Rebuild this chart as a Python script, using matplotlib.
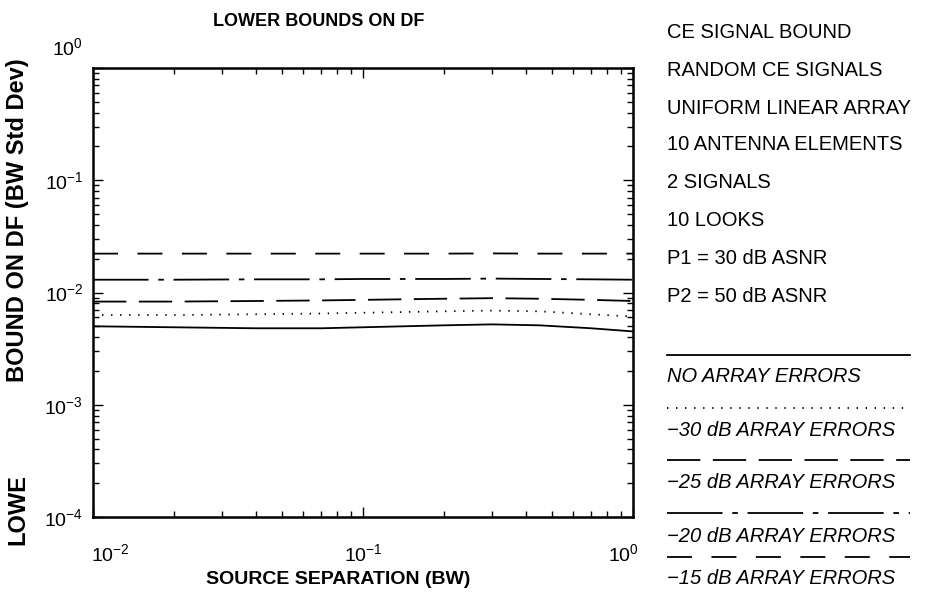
import matplotlib
matplotlib.use("Agg")
import matplotlib.pyplot as plt
from matplotlib.lines import Line2D
import matplotlib.transforms as mtransforms

plt.rcParams['font.family'] = ['Liberation Sans', 'DejaVu Sans']
plt.rcParams['mathtext.fontset'] = 'custom'
plt.rcParams['mathtext.rm'] = 'Liberation Sans'
plt.rcParams['mathtext.it'] = 'Liberation Sans:italic'
plt.rcParams['lines.scale_dashes'] = False

# Source separation (BW) sample points
separation = [0.01, 0.02, 0.04, 0.07, 0.1, 0.2, 0.3, 0.45, 0.7, 1.0]

# Lower bound on DF (BW std dev) for each array-error level
no_errors = [0.0050, 0.0049, 0.0048, 0.0048, 0.0049, 0.0051, 0.0052, 0.0051, 0.0048, 0.0045]
err_30db = [0.0063, 0.0063, 0.0064, 0.0065, 0.0066, 0.0068, 0.0069, 0.0068, 0.0064, 0.0061]
err_25db = [0.0083, 0.0083, 0.0084, 0.0085, 0.0086, 0.0088, 0.0089, 0.0088, 0.0086, 0.0084]
err_20db = [0.0130, 0.0130, 0.0131, 0.0131, 0.0132, 0.0132, 0.0133, 0.0132, 0.0131, 0.0130]
err_15db = [0.0222, 0.0222, 0.0222, 0.0222, 0.0222, 0.0222, 0.0223, 0.0222, 0.0222, 0.0222]

x_ticks = [1e-2, 1e-1, 1e0]
x_tick_labels = [r'$10^{-2}$', r'$10^{-1}$', r'$10^{0}$']
y_ticks = [1e-4, 1e-3, 1e-2, 1e-1, 1e0]
y_tick_labels = [r'$10^{-4}$', r'$10^{-3}$', r'$10^{-2}$', r'$10^{-1}$', r'$10^{0}$']

info_lines = ["CE SIGNAL BOUND", "RANDOM CE SIGNALS", "UNIFORM LINEAR ARRAY",
              "10 ANTENNA ELEMENTS", "2 SIGNALS", "10 LOOKS",
              "P1 = 30 dB ASNR", "P2 = 50 dB ASNR"]
series_labels = ["NO ARRAY ERRORS", "\u221230 dB ARRAY ERRORS", "\u221225 dB ARRAY ERRORS",
                 "\u221220 dB ARRAY ERRORS", "\u221215 dB ARRAY ERRORS"]

styles = [
    '-',
    (0, (1.0, 5.5)),
    (0, (24, 9)),
    (0, (40, 7, 4, 7)),
    (0, (18, 14)),
]
series = [no_errors, err_30db, err_25db, err_20db, err_15db]

W, H = 927, 595
fig = plt.figure(figsize=(W / 100, H / 100), dpi=100)
ax = fig.add_axes([93 / W, 1 - 517 / H, (633 - 93) / W, (517 - 68) / H])

for vals, ls in zip(series, styles):
    ax.plot(separation, vals, color='black', lw=1.3, linestyle=ls)

ax.set_xscale('log')
ax.set_yscale('log')
ax.set_xlim(1e-2, 1e0)
ax.set_ylim(1e-4, 1e0)
ax.set_xticks(x_ticks)
ax.set_xticklabels(x_tick_labels)
ax.set_yticks(y_ticks)
ax.set_yticklabels(y_tick_labels)
ax.tick_params(which='both', direction='in', top=True, right=True, width=1.0,
               labelsize=14)
ax.tick_params(which='major', length=7)
ax.tick_params(which='minor', length=4)
ax.tick_params(axis='x', pad=19)
ax.tick_params(axis='y', pad=7)
for sp in ax.spines.values():
    sp.set_linewidth(1.8)

# end labels on the x axis sit inside the axis span
xl = ax.get_xticklabels()
xl[0].set_horizontalalignment('left')
xl[0].set_transform(xl[0].get_transform() + mtransforms.ScaledTranslation(-2 / 100, 0, fig.dpi_scale_trans))
xl[-1].set_horizontalalignment('right')
xl[-1].set_transform(xl[-1].get_transform() + mtransforms.ScaledTranslation(6 / 100, 0, fig.dpi_scale_trans))
yl = ax.get_yticklabels()
yl[-1].set_transform(yl[-1].get_transform() + mtransforms.ScaledTranslation(0, 22 / 100, fig.dpi_scale_trans))

fig.text(319 / W, 1 - 22 / H, "LOWER BOUNDS ON DF", ha='center', va='center',
         fontsize=13, fontweight='bold')
fig.text(338 / W, 1 - 580 / H, "SOURCE SEPARATION (BW)", ha='center', va='center',
         fontsize=14, fontweight='bold')
fig.text(18 / W, 1 - 220 / H, "BOUND ON DF (BW Std Dev)", ha='center',
         va='center', rotation=90, fontsize=17, fontweight='bold')
fig.text(18 / W, 1 - 545 / H, "LOWE", ha='center',
         va='bottom', rotation=90, fontsize=17, fontweight='bold')

# Run conditions listed to the right of the plot
info_y = [33, 70, 108, 145, 182, 220, 258, 296]
for txt, y in zip(info_lines, info_y):
    fig.text(667 / W, 1 - y / H, txt, ha='left', va='center', fontsize=14.5)

# Line key
key_line_y = [355, 408, 460, 513, 557]
key_text_y = [376, 430, 483, 536, 578]
for txt, ls, ly, ty in zip(series_labels, styles, key_line_y, key_text_y):
    fig.add_artist(Line2D([667 / W, 910 / W], [1 - ly / H, 1 - ly / H],
                          transform=fig.transFigure, color='black', lw=1.3,
                          linestyle=ls))
    fig.text(667 / W, 1 - ty / H, txt, ha='left', va='center', fontsize=14.5,
             style='italic')

fig.savefig("out.png", dpi=100)
